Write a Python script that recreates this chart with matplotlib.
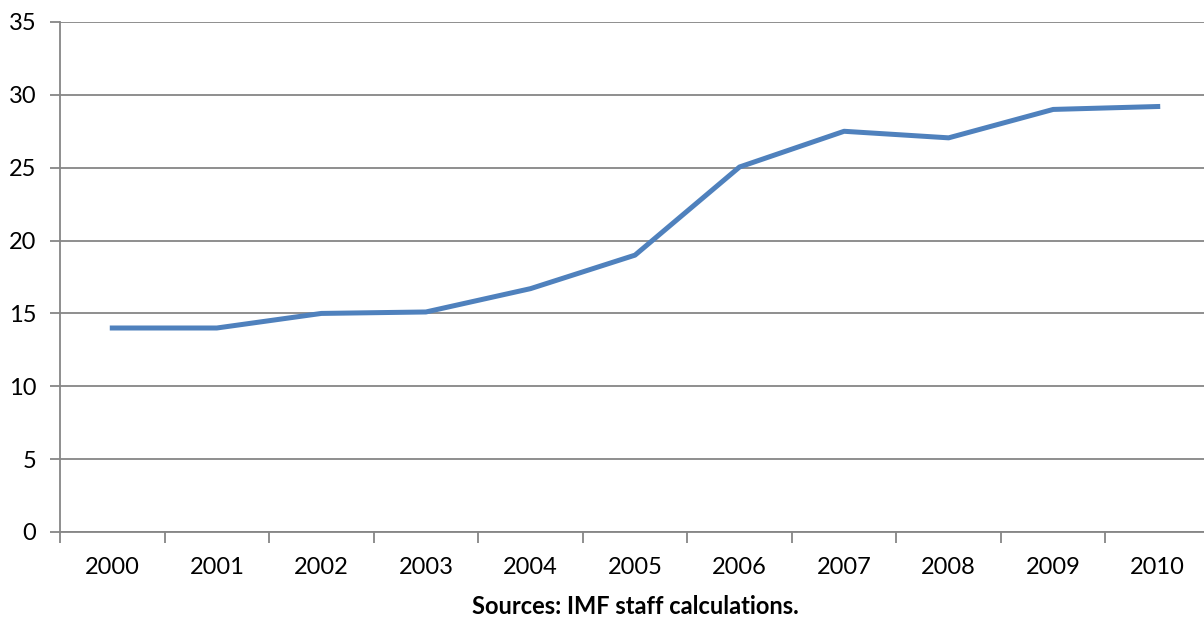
import matplotlib
matplotlib.use("Agg")
import matplotlib.pyplot as plt
import numpy as np

years = ["2000", "2001", "2002", "2003", "2004", "2005", "2006", "2007", "2008", "2009", "2010"]
values = [14.0, 14.0, 15.0, 15.1, 16.7, 19.0, 25.05, 27.5, 27.05, 29.0, 29.2]
yticks = [0, 5, 10, 15, 20, 25, 30, 35]
source = "Sources: IMF staff calculations."

plt.rcParams['font.family'] = ['Lato', 'DejaVu Sans']
W, H = 1204, 621
fig = plt.figure(figsize=(W / 100, H / 100), dpi=100)
left, right, top, bottom = 60, 1210, 22, 532
ax = fig.add_axes([left / W, 1 - bottom / H, (right - left) / W, (bottom - top) / H])

gray = "#868686"
x = np.arange(len(years))
ax.plot(x, values, color="#4F81BD", lw=3.6, solid_joinstyle="round", zorder=3)

ax.set_xlim(-0.5, len(years) - 0.5)
ax.set_ylim(0, 35)
ax.set_yticks(yticks)
ax.set_yticklabels([str(t) for t in yticks], fontsize=17)
ax.yaxis.grid(True, color=gray, lw=1.3)
ax.set_axisbelow(True)

ax.set_xticks(np.arange(-0.5, len(years) - 0.5 + 1e-9, 1.0))
ax.set_xticklabels([])
ax.set_xticks(x, minor=True)
ax.set_xticklabels(years, minor=True, fontsize=17)
ax.tick_params(axis="x", which="major", length=8, width=1.3, color=gray, direction="out")
ax.tick_params(axis="x", which="minor", length=0, pad=18)
ax.tick_params(axis="y", length=7, width=1.3, color=gray, pad=10)

for s in ["top", "right"]:
    ax.spines[s].set_visible(False)
for s in ["left", "bottom"]:
    ax.spines[s].set_color(gray)
    ax.spines[s].set_linewidth(1.3)

fig.text((left + right) / 2 / W, 1 - 607 / H, source, ha="center", va="center",
         fontsize=17, fontweight="bold")

fig.savefig("out.png", dpi=100)
